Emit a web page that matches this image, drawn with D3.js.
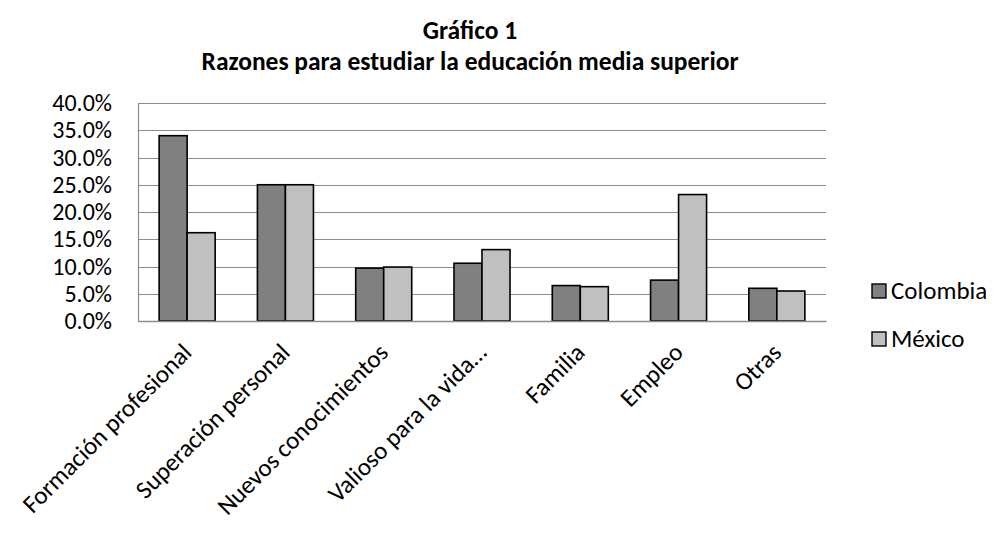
<!DOCTYPE html>
<html>
<head>
<meta charset="utf-8">
<script src="https://cdn.jsdelivr.net/npm/d3@7"></script>
<style>
  html, body { margin: 0; padding: 0; background: #fff; }
  svg { display: block; }
  svg text { font-family: Carlito, Lato, "Open Sans", sans-serif; }
</style>
</head>
<body>
<svg id="chart" width="994" height="533"></svg>
<script>
// Reasons for studying upper-secondary education, by country
const categories = [
  "Formación profesional",
  "Superación personal",
  "Nuevos conocimientos",
  "Valioso para la vida…",
  "Familia",
  "Empleo",
  "Otras"
];
const seriesNames = ["Colombia", "México"];
const colombia = [0.340, 0.250, 0.097, 0.106, 0.065, 0.075, 0.060];
const mexico   = [0.162, 0.250, 0.099, 0.131, 0.063, 0.232, 0.055];
const yTicks = [0, 0.05, 0.10, 0.15, 0.20, 0.25, 0.30, 0.35, 0.40];
const titleLines = ["Gráfico 1", "Razones para estudiar la educación media superior"];

const fills = ["#808080", "#c0c0c0"];
const seriesValues = [colombia, mexico];

const svg = d3.select("#chart");
const plot = { left: 138, right: 826, top: 103, bottom: 321 };

const x0 = d3.scaleBand()
  .domain(categories)
  .range([plot.left, plot.right])
  .paddingInner(0.43)
  .paddingOuter(0.215);
const x1 = d3.scaleBand()
  .domain(seriesNames)
  .range([0, x0.bandwidth()]);
const y = d3.scaleLinear()
  .domain([0, 0.40])
  .range([plot.bottom, plot.top]);

// Title
svg.append("g")
  .selectAll("text")
  .data(titleLines)
  .join("text")
  .attr("x", 470)
  .attr("y", (d, i) => 39 + i * 31)
  .attr("text-anchor", "middle")
  .attr("font-weight", "bold")
  .attr("font-size", 25.5)
  .attr("fill", "#000")
  .text(d => d);

// Horizontal gridlines
svg.append("g")
  .selectAll("line")
  .data(yTicks)
  .join("line")
  .attr("x1", plot.left)
  .attr("x2", plot.right)
  .attr("y1", d => Math.round(y(d)) + 0.5)
  .attr("y2", d => Math.round(y(d)) + 0.5)
  .attr("stroke", "#8c8c8c")
  .attr("stroke-width", 1.2);

// Y axis
const yAxis = svg.append("g")
  .attr("transform", `translate(${plot.left},0)`)
  .call(d3.axisLeft(y).tickValues(yTicks).tickFormat(d3.format(".1%")).tickSize(0).tickPadding(26));
yAxis.attr("font-family", null).attr("font-size", null);
yAxis.select(".domain").attr("stroke", "#8c8c8c").attr("stroke-width", 1.2);
yAxis.selectAll("text").attr("font-size", 24).attr("fill", "#000");

// Bars
const groups = svg.append("g")
  .selectAll("g")
  .data(categories)
  .join("g")
  .attr("transform", d => `translate(${x0(d)},0)`);

groups.selectAll("rect")
  .data((d, i) => seriesNames.map((s, j) => ({ s, j, v: seriesValues[j][i] })))
  .join("rect")
  .attr("x", d => x1(d.s))
  .attr("y", d => y(d.v))
  .attr("width", x1.bandwidth())
  .attr("height", d => y(0) - y(d.v))
  .attr("fill", d => fills[d.j])
  .attr("stroke", "#000")
  .attr("stroke-width", 1.6);

// X axis
const xAxis = svg.append("g")
  .attr("transform", `translate(0,${plot.bottom})`)
  .call(d3.axisBottom(x0).tickSize(0).tickPadding(0));
xAxis.attr("font-family", null).attr("font-size", null);
xAxis.select(".domain").attr("stroke", "#8c8c8c").attr("stroke-width", 1.6);
xAxis.selectAll("text")
  .attr("font-size", 25)
  .attr("fill", "#000")
  .attr("text-anchor", "end")
  .attr("dy", null)
  .attr("y", 0)
  .attr("transform", "translate(6,33) rotate(-45)");

// Legend
const legend = svg.append("g")
  .selectAll("g")
  .data(seriesNames)
  .join("g")
  .attr("transform", (d, i) => `translate(872,${284 + i * 48})`);
legend.append("rect")
  .attr("width", 14)
  .attr("height", 14)
  .attr("fill", (d, i) => fills[i])
  .attr("stroke", "#000")
  .attr("stroke-width", 1.4);
legend.append("text")
  .attr("x", 19)
  .attr("y", 15)
  .attr("font-size", 25)
  .attr("fill", "#000")
  .text(d => d);
</script>
</body>
</html>
